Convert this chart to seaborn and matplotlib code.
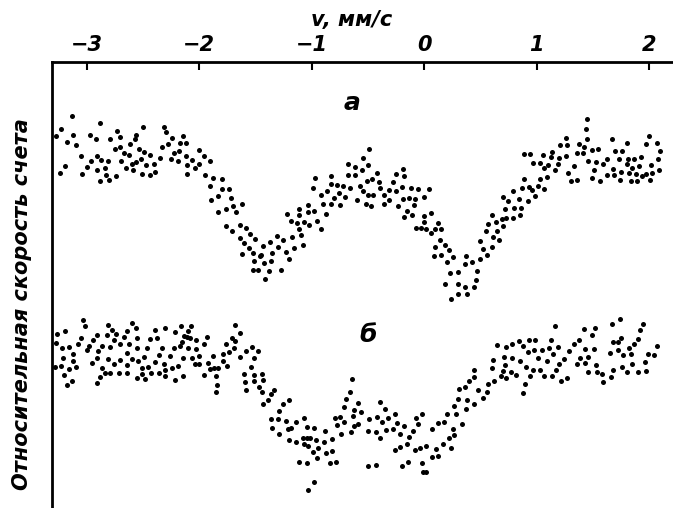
import matplotlib
matplotlib.use("Agg")
import matplotlib.pyplot as plt
import seaborn as sns
import pandas as pd

# Mössbauer spectrum "а": velocity (mm/s) and relative count rate (arb. units)
vel_a = [-3.27, -3.23, -3.24, -3.19, -3.17, -3.13, -3.12, -3.09, -3.05, -3.04, -3.00, -2.97, -2.96,
         -2.92, -2.91, -2.91, -2.88, -2.87, -2.88, -2.84, -2.83, -2.81, -2.80, -2.79, -2.74, -2.75,
         -2.73, -2.70, -2.70, -2.69, -2.67, -2.65, -2.62, -2.61, -2.60, -2.59, -2.57, -2.56, -2.56,
         -2.53, -2.52, -2.51, -2.50, -2.49, -2.47, -2.44, -2.44, -2.40, -2.39, -2.35, -2.33, -2.31,
         -2.29, -2.28, -2.25, -2.24, -2.22, -2.19, -2.18, -2.17, -2.14, -2.12, -2.12, -2.11, -2.11,
         -2.06, -2.04, -2.00, -2.00, -1.96, -1.95, -1.90, -1.88, -1.90, -1.80, -1.80, -1.73, -1.83,
         -1.72, -1.89, -1.76, -1.83, -1.70, -1.67, -1.62, -1.76, -1.71, -1.64, -1.58, -1.55, -1.64,
         -1.60, -1.56, -1.62, -1.50, -1.52, -1.46, -1.51, -1.52, -1.48,
         -1.41, -1.38, -1.43, -1.42, -1.45, -1.37, -1.35, -1.36, -1.31, -1.30, -1.27, -1.25, -1.23,
         -1.20, -1.22, -1.18, -1.17, -1.16, -1.13, -1.11, -1.11, -1.11, -1.09, -1.08, -1.07, -1.03,
         -1.03, -1.02, -0.98, -0.99, -0.97, -0.95, -0.92, -0.92, -0.90, -0.87, -0.86, -0.83, -0.83,
         -0.83, -0.80, -0.77, -0.76, -0.75, -0.72, -0.70, -0.68, -0.68, -0.66, -0.61, -0.61, -0.60,
         -0.57, -0.55, -0.54, -0.54, -0.52, -0.51, -0.50, -0.50, -0.49, -0.47, -0.46, -0.45, -0.42,
         -0.40, -0.39, -0.36, -0.36, -0.31, -0.31, -0.28, -0.25, -0.25, -0.23, -0.20, -0.19, -0.19,
         -0.18, -0.18, -0.15, -0.13, -0.12, -0.11, -0.09, -0.08, -0.07, -0.05, -0.03, 0.00, 0.00,
         0.00, 0.02, 0.04, 0.06, 0.06, 0.10, 0.12, 0.15, 0.10, 0.14, 0.15, 0.09, 0.19, 0.22, 0.20,
         0.26, 0.23, 0.30, 0.19, 0.30, 0.30, 0.24,
         0.37, 0.36, 0.43, 0.47, 0.36, 0.44, 0.46, 0.38, 0.50, 0.50, 0.52, 0.56, 0.60, 0.55, 0.57,
         0.60, 0.61, 0.64, 0.65, 0.67, 0.69, 0.70, 0.73, 0.72, 0.70, 0.75, 0.79, 0.80, 0.79, 0.84,
         0.85, 0.86, 0.87, 0.89, 0.92, 0.93, 0.96, 0.99, 1.01, 1.03, 1.07, 1.09, 0.89, 0.94, 0.97,
         1.03, 1.06, 1.07, 1.10, 1.13, 1.14, 1.16, 1.19, 1.20, 1.21, 1.26, 1.27, 1.26, 1.28, 1.31,
         1.33, 1.36, 1.36, 1.38, 1.41, 1.42, 1.44, 1.45, 1.45, 1.46, 1.49, 1.49, 1.51, 1.53, 1.55,
         1.56, 1.59, 1.63, 1.63, 1.67, 1.68, 1.69, 1.70, 1.73, 1.74, 1.75, 1.76, 1.80, 1.80, 1.81,
         1.82, 1.84, 1.85, 1.87, 1.88, 1.89, 1.91, 1.93, 1.94, 1.97, 1.97, 2.00, 2.01, 2.02, 2.03,
         2.07, 2.08, 2.09, 2.10]
rate_a = [3.72, 3.79, 3.35, 3.42, 3.66, 3.92, 3.73, 3.63, 3.52, 3.34, 3.41, 3.73, 3.47,
          3.69, 3.52, 3.38, 3.85, 3.48, 3.27, 3.40, 3.33, 3.47, 3.28, 3.69, 3.32, 3.59,
          3.77, 3.71, 3.61, 3.47, 3.55, 3.40, 3.53, 3.64, 3.44, 3.38, 3.69, 3.73, 3.46,
          3.59, 3.49, 3.34, 3.81, 3.56, 3.43, 3.53, 3.33, 3.44, 3.36, 3.50, 3.61, 3.81,
          3.76, 3.64, 3.49, 3.70, 3.55, 3.47, 3.57, 3.65, 3.72, 3.65, 3.52, 3.43, 3.34,
          3.48, 3.40, 3.58, 3.44, 3.52, 3.33, 3.47, 3.30, 3.22, 3.29, 3.19, 3.19, 3.12,
          3.10, 3.08, 2.99, 2.96, 3.02, 2.96, 3.04, 2.82, 2.77, 2.83, 2.80, 2.74, 2.70,
          2.65, 2.60, 2.54, 2.69, 2.55, 2.52, 2.47, 2.38, 2.38,
          2.29, 2.37, 2.62, 2.45, 2.53, 2.66, 2.55, 2.47, 2.72, 2.61, 2.38, 2.68, 2.56,
          2.49, 2.94, 2.87, 2.71, 2.60, 2.85, 2.99, 2.79, 2.93, 2.73, 2.63, 2.86, 2.96,
          3.03, 2.83, 2.97, 3.20, 3.30, 2.87, 2.79, 3.13, 3.04, 2.94, 3.17, 3.24, 3.32,
          3.04, 3.10, 3.23, 3.15, 3.03, 3.22, 3.11, 3.44, 3.33, 3.20, 3.41, 3.33, 3.08,
          3.22, 3.38, 3.50, 3.17, 3.04, 3.27, 3.43, 3.13, 3.59, 3.02, 3.29, 3.13, 3.35,
          3.26, 3.20, 3.13, 3.04, 3.18, 3.08, 3.26, 3.34, 3.17, 3.02, 3.21, 3.09, 3.39,
          3.32, 2.91, 2.97, 3.10, 3.20, 2.93, 3.03, 3.09, 2.80, 3.19, 2.80, 3.11, 2.92,
          2.86, 2.79, 3.19, 2.95, 2.75, 2.79, 2.85, 2.79, 2.61, 2.68, 2.53, 2.52, 2.63, 2.58, 2.46,
          2.51, 2.35, 2.36, 2.24, 2.24, 2.14, 2.09,
          2.52, 2.44, 2.46, 2.37, 2.21, 2.21, 2.28, 2.14, 2.49, 2.67, 2.59, 2.53, 2.61, 2.77, 2.84,
          2.93, 2.71, 2.86, 2.77, 2.68, 2.89, 2.82, 2.90, 2.99, 3.11, 3.07, 2.90, 3.00, 3.17, 3.09,
          2.93, 3.00, 3.20, 3.29, 3.07, 3.21, 3.18, 3.12, 3.22, 3.29, 3.19, 3.31, 3.54, 3.54, 3.45,
          3.45, 3.53, 3.40, 3.43, 3.51, 3.56, 3.38, 3.44, 3.50, 3.63, 3.70, 3.63, 3.52, 3.35, 3.27,
          3.42, 3.28, 3.55, 3.64, 3.55, 3.61, 3.79, 3.89, 3.69, 3.47, 3.58, 3.30, 3.38, 3.46, 3.59,
          3.27, 3.44, 3.49, 3.33, 3.69, 3.39, 3.33, 3.57, 3.49, 3.28, 3.36, 3.57, 3.65, 3.44, 3.49,
          3.35, 3.27, 3.40, 3.49, 3.34, 3.27, 3.42, 3.51, 3.32, 3.64, 3.34, 3.72, 3.28, 3.43, 3.35,
          3.65, 3.49, 3.38, 3.57]

# Mössbauer spectrum "б"
vel_b = [-3.03, -3.01, -3.26, -3.19, -3.27, -3.22, -3.16, -3.12, -3.08, -3.05, -3.00, -2.98, -2.94,
         -2.91, -2.81, -2.77, -2.82, -3.28, -3.23, -3.21, -3.16, -3.12, -3.09, -3.20, -3.17, -3.13,
         -2.95, -2.91, -2.90, -2.86, -2.86, -2.88, -2.91, -2.84, -2.81, -2.79, -2.79, -2.76, -2.76,
         -2.74, -2.71, -2.70, -2.70, -2.67, -2.64, -2.64, -2.64, -2.64, -2.62, -2.60, -2.56, -2.60,
         -2.55, -2.55, -2.54, -2.55, -2.51, -2.51, -2.49, -2.48, -2.46, -2.45, -2.44, -2.43, -2.39,
         -2.39, -2.37, -2.36, -2.36, -2.33, -2.31, -2.30, -2.30, -2.30, -2.26, -2.24, -2.22, -2.21,
         -2.21, -2.19, -2.17, -2.16, -2.15, -2.14, -2.14, -2.13, -2.11, -2.10, -2.10, -2.08, -2.07,
         -2.06, -2.04, -2.03, -2.03, -2.00, -2.00, -1.96, -1.96, -1.93, -1.92, -1.90, -1.88, -1.87,
         -1.85, -1.84, -1.85, -1.83, -1.79, -1.79, -1.76, -1.75, -1.73, -1.71, -1.69, -1.68, -1.68,
         -1.64, -1.64, -1.60, -1.59, -1.58, -1.58, -1.53, -1.54, -1.51, -1.51, -1.51, -1.48, -1.47,
         -1.44, -1.43, -1.44, -1.39, -1.43, -1.36, -1.33, -1.25, -1.20, -1.29, -1.36, -1.35, -1.30,
         -1.29, -1.23, -1.21, -1.18, -1.20, -1.14, -1.14, -1.07, -1.08, -1.07, -1.04, -1.04, -1.01,
         -1.03, -0.98, -0.99, -0.96, -0.94, -0.95, -1.11, -1.04, -0.98, -1.03, -0.89, -0.88, -0.87,
         -0.84, -0.82, -0.82, -0.78, -0.79, -0.77, -0.75, -0.74, -0.71, -0.71, -0.69, -0.66, -0.65,
         -0.64, -0.63, -0.62, -0.62, -0.59, -0.59, -0.56, -0.50, -0.50, -0.49, -0.43, -0.43, -0.42,
         -0.39, -0.39, -0.37, -0.35, -0.34, -0.32, -0.28, -0.26, -0.26, -0.24, -0.21, -0.21, -0.20,
         -0.18, -0.15, -0.14, -0.13, -0.10, -0.08, -0.07, -0.05, -0.04, -0.02, -0.02, -0.01, 0.02,
         0.02, 0.07, 0.07, 0.11, 0.12, 0.12, 0.18, 0.17, 0.20, 0.22, 0.24, 0.26, 0.27, 0.28, 0.27,
         0.30, 0.31,
         0.34, 0.37, 0.38, 0.36, 0.40, 0.44, 0.44, 0.44, 0.48, 0.52, 0.56, 0.57, 0.60, 0.61, 0.62,
         0.65, 0.68, 0.70, 0.71, 0.73, 0.72, 0.73, 0.78, 0.78, 0.77, 0.82, 0.84, 0.85, 0.88, 0.88,
         0.90, 0.91, 0.92, 0.93, 0.94, 0.97, 0.98, 0.99, 1.01, 1.03, 1.05, 1.07, 1.09, 1.11, 1.13,
         1.14, 1.15, 1.16, 1.17, 1.20, 1.19, 1.22, 1.24, 1.27, 1.29, 1.33, 1.36, 1.38, 1.39, 1.42,
         1.43, 1.43, 1.46, 1.46, 1.49, 1.51, 1.52, 1.53, 1.54, 1.58, 1.59, 1.65, 1.67, 1.66, 1.68,
         1.68, 1.72, 1.72, 1.74, 1.75, 1.76, 1.77, 1.80, 1.82, 1.84, 1.85, 1.87, 1.90, 1.90, 1.92,
         1.95, 1.96, 1.97, 1.99, 2.04, 2.07]
rate_b = [1.88, 1.82, 1.74, 1.77, 1.65, 1.60, 1.61, 1.54, 1.64, 1.70, 1.58, 1.62, 1.68,
          1.73, 1.83, 1.78, 1.73, 1.41, 1.42, 1.50, 1.39, 1.47, 1.41, 1.33, 1.23, 1.27,
          1.45, 1.50, 1.57, 1.62, 1.40, 1.31, 1.25, 1.35, 1.49, 1.35, 1.61, 1.68, 1.44,
          1.74, 1.35, 1.48, 1.64, 1.71, 1.77, 1.35, 1.43, 1.55, 1.64, 1.85, 1.80, 1.49,
          1.70, 1.60, 1.47, 1.30, 1.40, 1.34, 1.51, 1.29, 1.60, 1.41, 1.69, 1.35, 1.78,
          1.46, 1.70, 1.53, 1.35, 1.60, 1.44, 1.80, 1.38, 1.32, 1.52, 1.40, 1.60, 1.76,
          1.28, 1.42, 1.62, 1.82, 1.66, 1.50, 1.32, 1.72, 1.71, 1.77, 1.60, 1.70, 1.82,
          1.50, 1.44, 1.59, 1.68, 1.44, 1.52, 1.33, 1.64, 1.71, 1.45, 1.39, 1.52, 1.40,
          1.32, 1.23, 1.16, 1.40, 1.47, 1.54, 1.64, 1.42, 1.56, 1.70, 1.60, 1.67, 1.83,
          1.75, 1.51, 1.34, 1.26, 1.57, 1.18, 1.61, 1.41, 1.33, 1.27, 1.50, 1.57, 1.21,
          1.34, 1.28, 1.16, 1.08, 1.04, 1.14, 1.18, 1.04, 1.08, 0.97, 0.89, 0.80, 0.89,
          0.74, 0.87, 0.79, 0.80, 0.68, 0.66, 0.86, 0.90, 0.70, 0.64, 0.81, 0.70, 0.70,
          0.62, 0.80, 0.56, 0.68, 0.60, 0.50, 0.46, 0.45, 0.26, 0.18, 0.66, 0.77, 0.55,
          0.45, 0.57, 0.69, 0.46, 0.90, 0.83, 0.91, 0.74, 1.01, 0.86, 1.09, 1.16, 0.76,
          1.29, 0.92, 0.82, 0.98, 1.05, 0.84, 0.96, 0.77, 0.42, 0.89, 0.43, 0.76, 0.91,
          1.06, 0.70, 0.86, 0.99, 0.78, 0.90, 0.79, 0.94, 0.58, 0.85, 0.61, 0.74, 0.42,
          0.82, 0.64, 0.46, 0.71, 0.77, 0.58, 0.90, 0.84, 0.60, 0.94, 0.45, 0.36, 0.36,
          0.62, 0.51, 0.79, 0.59, 0.52, 0.85, 0.86, 0.64, 0.94, 0.70, 0.60, 0.79, 1.02, 0.94, 0.73,
          1.09, 1.19,
          0.84, 0.99, 1.08, 1.21, 1.27, 1.31, 1.38, 1.04, 1.18, 1.10, 1.16, 1.24, 1.40, 1.48, 1.27,
          1.63, 1.32, 1.37, 1.51, 1.61, 1.43, 1.30, 1.50, 1.64, 1.36, 1.33, 1.67, 1.47, 1.62, 1.15,
          1.24, 1.41, 1.56, 1.68, 1.32, 1.38, 1.58, 1.68, 1.50, 1.38, 1.58, 1.32, 1.47, 1.60, 1.68,
          1.32, 1.54, 1.82, 1.38, 1.44, 1.61, 1.27, 1.49, 1.30, 1.57, 1.64, 1.44, 1.68, 1.50, 1.79,
          1.59, 1.45, 1.51, 1.36, 1.73, 1.59, 1.80, 1.43, 1.36, 1.34, 1.26, 1.55, 1.84, 1.31, 1.38,
          1.66, 1.58, 1.66, 1.89, 1.70, 1.41, 1.53, 1.36, 1.60, 1.54, 1.44, 1.64, 1.69, 1.36, 1.78,
          1.84, 1.46, 1.37, 1.54, 1.53, 1.62]

x_ticks = [-3, -2, -1, 0, 1, 2]
x_tick_labels = ["\u22123", "\u22122", "\u22121", "0", "1", "2"]
x_title = "v, мм/с"
y_title = "Относительная скорость счета"
panel_labels = ["а", "б"]

sns.set_style("white")
plt.rcParams["font.family"] = ["DejaVu Sans"]
plt.rcParams["text.color"] = "black"
plt.rcParams["xtick.color"] = "black"
plt.rcParams["xtick.labelcolor"] = "black"

fig = plt.figure(figsize=(6.73, 5.08), dpi=100)
ax = fig.add_axes([52 / 673, 0.0, 1 - 52 / 673, 446 / 508])

df_a = pd.DataFrame({"v": vel_a, "rate": rate_a})
df_b = pd.DataFrame({"v": vel_b, "rate": rate_b})
for df in (df_a, df_b):
    sns.scatterplot(data=df, x="v", y="rate", ax=ax, color="black", s=13,
                    linewidth=0, legend=False)

ax.set_xlim(-3.307, 2.213)
ax.set_ylim(0.0, 4.46)
ax.set_xlabel("")
ax.set_ylabel("")

# frame: only the top and left edges are drawn
for side in ("right", "bottom"):
    ax.spines[side].set_visible(False)
for side in ("top", "left"):
    ax.spines[side].set_visible(True)
    ax.spines[side].set_linewidth(2.0)
    ax.spines[side].set_color("black")

ax.xaxis.tick_top()
ax.set_xticks(x_ticks)
ax.set_xticklabels(x_tick_labels, fontsize=15, fontweight="bold", fontstyle="italic",
                   color="black")
ax.tick_params(axis="x", which="major", direction="in", length=6, width=1.5,
               color="black", pad=5, top=True, bottom=False, labeltop=True, labelbottom=False)
ax.set_yticks([])

fig.text(352 / 673, 1 - 20 / 508, x_title, ha="center", va="center", color="black",
         fontsize=15, fontweight="bold", fontstyle="italic")
fig.text(22 / 673, 1 - 304 / 508, y_title, ha="center", va="center", rotation=90,
         color="black", fontsize=15, fontweight="bold", fontstyle="italic")

ax.text(-0.64, 4.05, panel_labels[0], ha="center", va="center", color="black",
        fontsize=18, fontweight="bold", fontstyle="italic")
ax.text(-0.50, 1.73, panel_labels[1], ha="center", va="center", color="black",
        fontsize=18, fontweight="bold", fontstyle="italic")

fig.savefig("out.png", dpi=100)
